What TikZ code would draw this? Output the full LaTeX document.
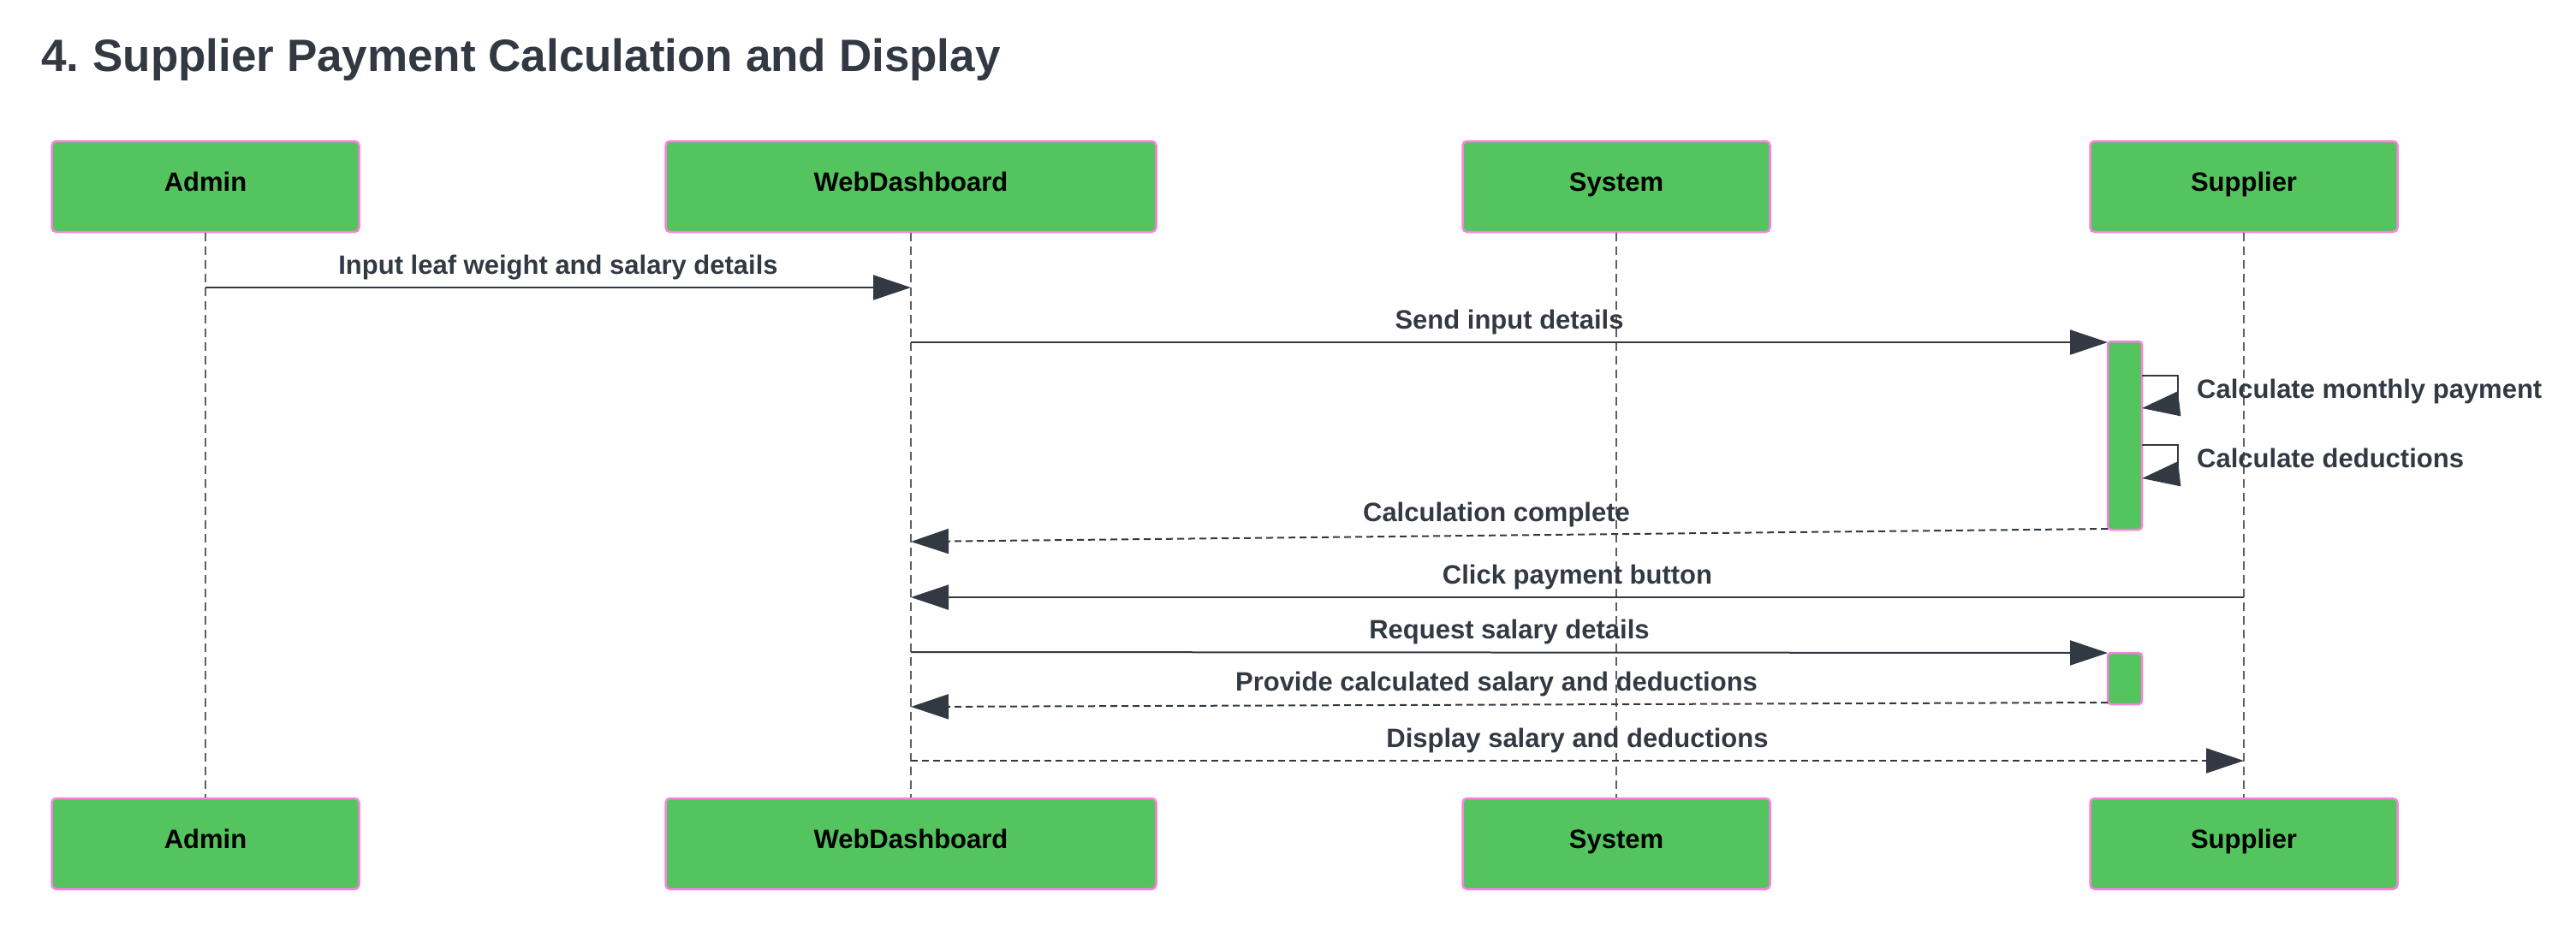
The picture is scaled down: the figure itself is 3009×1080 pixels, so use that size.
\documentclass[tikz,border=0pt]{standalone}
\usepackage{fontspec}
\setmainfont{Liberation Sans}
\usetikzlibrary{arrows.meta}
\definecolor{boxgreen}{RGB}{84,196,94}
\definecolor{boxpink}{RGB}{252,128,222}
\definecolor{ink}{RGB}{51,57,67}
\definecolor{lifegray}{RGB}{95,95,95}
\tikzset{
  actor/.style={draw=boxpink, fill=boxgreen, line width=2.5pt, rounded corners=5pt,
    minimum height=106pt, inner sep=0pt, text=black, text height=22pt, text depth=12pt,
    font=\bfseries\fontsize{31}{36}\selectfont},
  actbar/.style={draw=boxpink, fill=boxgreen, line width=2.5pt, rounded corners=4pt,
    minimum width=40pt, inner sep=0pt},
  lifeline/.style={draw=lifegray, line width=1.5pt, dash pattern=on 10pt off 6pt},
  msg/.style={draw=ink, line width=2pt, -{Triangle[length=44pt,width=29pt]}},
  reply/.style={msg, dash pattern=on 8pt off 5pt},
  selfmsg/.style={draw=ink, line width=1.6pt, -{Triangle[length=44pt,width=29pt]}},
  lbl/.style={midway, anchor=base, yshift=16pt, text=ink, inner sep=0pt,
    font=\bfseries\fontsize{31}{36}\selectfont},
  sidelbl/.style={anchor=base west, text=ink, inner sep=0pt,
    font=\bfseries\fontsize{31}{36}\selectfont}
}
\begin{document}
\begin{tikzpicture}[x=1pt,y=-1pt]
\useasboundingbox (0,0) rectangle (3009,1080);
% title
\node[anchor=base west, inner sep=0pt, text=ink, font=\bfseries\fontsize{53}{60}\selectfont]
  (title) at (48,83) {4.\hspace{0.3em}Supplier Payment Calculation and Display};
% actors top
\node[actor, minimum width=359pt] (adminT) at (240,218) {Admin};
\node[actor, minimum width=573pt] (webT) at (1064,218) {WebDashboard};
\node[actor, minimum width=359pt] (sysT) at (1888,218) {System};
\node[actor, minimum width=359pt] (supT) at (2621,218) {Supplier};
% actors bottom
\node[actor, minimum width=359pt] (adminB) at (240,986) {Admin};
\node[actor, minimum width=573pt] (webB) at (1064,986) {WebDashboard};
\node[actor, minimum width=359pt] (sysB) at (1888,986) {System};
\node[actor, minimum width=359pt] (supB) at (2621,986) {Supplier};
% lifelines
\draw[lifeline] (adminT.south) -- (adminB.north);
\draw[lifeline] (webT.south) -- (webB.north);
\draw[lifeline] (sysT.south) -- (sysB.north);
\draw[lifeline] (supT.south) -- (supB.north);
% activation bars
\node[actbar, minimum height=220pt] (act1) at (2482,509) {};
\node[actbar, minimum height=60pt] (act2) at (2482,793) {};
% message anchor points
\coordinate (a1) at (240,336);
\coordinate (w1) at (1064,336);
\coordinate (w2) at (1064,400);
\coordinate (b1in) at (2462,400);
\coordinate (l1a) at (2502,439);
\coordinate (l1b) at (2544,439);
\coordinate (l1c) at (2544,472);
\coordinate (l1d) at (2502,477);
\coordinate (l2a) at (2502,520);
\coordinate (l2b) at (2544,520);
\coordinate (l2c) at (2544,554);
\coordinate (l2d) at (2502,559);
\coordinate (b1out) at (2462,618);
\coordinate (w3) at (1064,633);
\coordinate (s4) at (2621,698);
\coordinate (w4) at (1064,698);
\coordinate (w5) at (1064,762);
\coordinate (b2in) at (2462,763);
\coordinate (b2out) at (2462,821);
\coordinate (w6) at (1064,826);
\coordinate (w7) at (1064,889);
\coordinate (s7) at (2621,889);
% messages
\draw[msg] (a1) -- node[lbl] {Input leaf weight and salary details} (w1);
\draw[msg] (w2) -- node[lbl] {Send input details} (b1in);
\draw[selfmsg] (l1a) -- (l1b) -- (l1c) -- (l1d);
\node[sidelbl] (lblA) at (2566,465) {Calculate monthly payment};
\draw[selfmsg] (l2a) -- (l2b) -- (l2c) -- (l2d);
\node[sidelbl] (lblB) at (2566,546) {Calculate deductions};
\draw[reply] (b1out) -- node[lbl, xshift=-15pt] {Calculation complete} (w3);
\draw[msg] (s4) -- node[lbl] {Click payment button} (w4);
\draw[msg] (w5) -- node[lbl] {Request salary details} (b2in);
\draw[reply] (b2out) -- node[lbl, xshift=-15pt] {Provide calculated salary and deductions} (w6);
\draw[reply] (w7) -- node[lbl] {Display salary and deductions} (s7);
\end{tikzpicture}
\end{document}
